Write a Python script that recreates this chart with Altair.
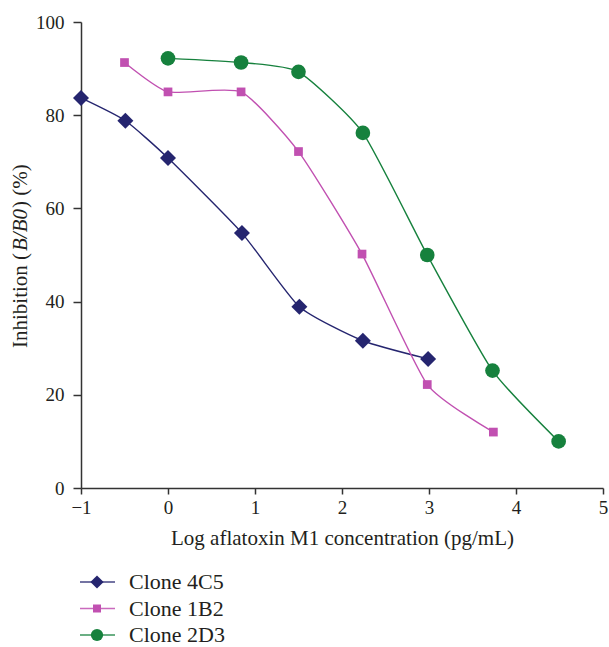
import altair as alt
import pandas as pd

series = ["Clone 4C5", "Clone 1B2", "Clone 2D3"]
x_4c5 = [-1.0, -0.49, 0.0, 0.85, 1.51, 2.24, 2.99]
y_4c5 = [83.7, 78.8, 70.8, 54.7, 38.9, 31.6, 27.7]
x_1b2 = [-0.5, 0.0, 0.84, 1.5, 2.23, 2.98, 3.74]
y_1b2 = [91.3, 85.0, 85.0, 72.2, 50.2, 22.2, 12.0]
x_2d3 = [0.0, 0.84, 1.5, 2.24, 2.98, 3.73, 4.49]
y_2d3 = [92.2, 91.3, 89.3, 76.2, 50.0, 25.2, 10.0]

colors = ["#25256f", "#c150b1", "#16813d"]
shapes = ["diamond", "square", "circle"]
sizes = [256, 76, 215]
legend_sizes = [175, 64, 150]

x_ticks = [-1, -0.5, 0, 0.5, 1, 1.5, 2, 2.5, 3, 3.5, 4, 4.5, 5]
y_ticks = [0, 20, 40, 60, 80, 100]

FONT = "Liberation Serif"

rows = []
for i, (xs, ys) in enumerate([(x_4c5, y_4c5), (x_1b2, y_1b2), (x_2d3, y_2d3)]):
    for xv, yv in zip(xs, ys):
        rows.append({"series": series[i], "x": xv, "y": yv, "sz": sizes[i]})
df = pd.DataFrame(rows)

legend_df = pd.DataFrame({"series": series, "row": list(range(len(series))), "sz": legend_sizes})

color_scale = alt.Scale(domain=series, range=colors)
shape_scale = alt.Scale(domain=series, range=shapes)

x_enc = alt.X(
    "x:Q",
    scale=alt.Scale(domain=[-1, 5], nice=False, zero=False),
    axis=alt.Axis(
        values=x_ticks,
        format="d",
        labelExpr="datum.value % 1 === 0 ? datum.label : ''",
        labelFlush=False,
        title="Log aflatoxin M1 concentration (pg/mL)",
        titleFont=FONT, titleFontSize=21, titleFontWeight="normal", titleColor="#231f20",
        titlePadding=10,
        labelFont=FONT, labelFontSize=19, labelColor="#231f20", labelPadding=4,
        tickSize=6, tickWidth=1.5, tickColor="#333333",
        domainColor="#333333", domainWidth=1.5, grid=False,
    ),
)
y_enc = alt.Y(
    "y:Q",
    scale=alt.Scale(domain=[0, 100], nice=False),
    axis=alt.Axis(
        values=y_ticks,
        title=None,
        labelFlush=False,
        labelFont=FONT, labelFontSize=19, labelColor="#231f20", labelPadding=9,
        tickSize=8, tickWidth=1.5, tickColor="#333333",
        domainColor="#333333", domainWidth=1.5, grid=False,
    ),
)

lines = alt.Chart(df).mark_line(interpolate="cardinal", tension=0.45, strokeWidth=1.4).encode(
    x=x_enc, y=y_enc,
    color=alt.Color("series:N", scale=color_scale, legend=None),
    detail="series:N",
)
points = alt.Chart(df).mark_point(filled=True, opacity=1, strokeWidth=0).encode(
    x="x:Q", y="y:Q",
    color=alt.Color("series:N", scale=color_scale, legend=None),
    shape=alt.Shape("series:N", scale=shape_scale, legend=None),
    size=alt.Size("sz:Q", scale=None, legend=None),
)
main = alt.layer(lines, points)

# y-axis title with italic B/B0
title_parts = [
    ("Inhibition (", "normal", 326),
    ("B/B0", "italic", 326 - 97),
    (") (%)", "normal", 326 - 97 - 43),
]
title_layers = []
for txt, style, ypos in title_parts:
    title_layers.append(
        alt.Chart(pd.DataFrame({"t": [txt]})).mark_text(
            font=FONT, fontSize=21, fontStyle=style, angle=270,
            align="left", baseline="middle", color="#231f20",
        ).encode(text="t:N", x=alt.value(-60), y=alt.value(ypos))
    )

leg_y = alt.Y("row:Q", scale=alt.Scale(domain=[0, 2], range=[560, 613]), axis=None)
leg_rule = alt.Chart(legend_df).mark_rule(strokeWidth=1.6, opacity=0.85).encode(
    x=alt.value(-1), x2=alt.value(34), y=leg_y,
    color=alt.Color("series:N", scale=color_scale, legend=None),
)
leg_pt = alt.Chart(legend_df).mark_point(filled=True, opacity=1, strokeWidth=0).encode(
    x=alt.value(16), y=leg_y,
    color=alt.Color("series:N", scale=color_scale, legend=None),
    shape=alt.Shape("series:N", scale=shape_scale, legend=None),
    size=alt.Size("sz:Q", scale=None, legend=None),
)
leg_txt = alt.Chart(legend_df).mark_text(
    font=FONT, fontSize=22, align="left", baseline="middle", color="#231f20"
).encode(x=alt.value(48), y=leg_y, text="series:N")

legend_layer = alt.layer(leg_rule, leg_pt, leg_txt)

chart = alt.layer(main, legend_layer, *title_layers).resolve_scale(
    y="independent"
).properties(
    width=522, height=466,
    autosize=alt.AutoSizeParams(type="none"),
    padding={"left": 81, "top": 22, "right": 6, "bottom": 159},
    background="white",
).configure_view(stroke=None)

chart.save("out.html", embed_options={"renderer": "svg", "actions": False})
